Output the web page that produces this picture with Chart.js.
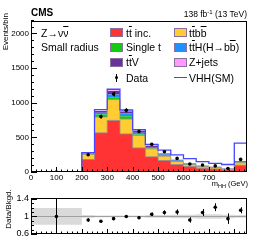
<!DOCTYPE html>
<html>
<head>
<meta charset="utf-8">
<script src="https://cdn.jsdelivr.net/npm/chart.js@4.4.1/dist/chart.umd.min.js"></script>
<style>
  html, body { margin: 0; padding: 0; background: #fff; }
  body { width: 258px; height: 243px; position: relative; overflow: hidden; font-family: "Liberation Sans", Arial, sans-serif; color: #000; }
  canvas { position: absolute; left: 0; }
  #main { top: 0; }
  #ratio { top: 190px; }
  .t { position: absolute; white-space: nowrap; line-height: 1; }
  .ob { text-decoration: overline; }
  .sw { position: absolute; width: 13px; height: 9px; box-sizing: border-box; border: 1px solid #8a6fa0; }
  .rot { position: absolute; white-space: nowrap; line-height: 1; transform-origin: 0 0; transform: rotate(-90deg); text-align: right; }
</style>
</head>
<body>
<canvas id="main" width="258" height="190"></canvas>
<canvas id="ratio" width="258" height="53"></canvas>

<!-- header -->
<div class="t" style="left:31px;top:8px;font-size:10px;font-weight:bold">CMS</div>
<div class="t" style="right:11px;top:9.5px;font-size:8.5px">138 fb<span style="font-size:6px;position:relative;top:-3px">-1</span> (13 TeV)</div>

<!-- axis titles -->
<div class="rot" style="left:1.5px;top:53px;width:40px;font-size:8px">Events/bin</div>
<div class="t" style="right:10px;top:180px;font-size:7.5px">m<span style="font-size:5.5px;position:relative;top:2px">HH</span> (GeV)</div>
<div class="rot" style="left:4.5px;top:229px;width:40px;font-size:8px;text-align:center">Data/Bkgd.</div>

<!-- legend -->
<div class="t" style="left:41px;top:28px;font-size:10.5px">Z→ν<span class="ob">ν</span></div>
<div class="t" style="left:41px;top:41.5px;font-size:10.5px">Small radius</div>

<div class="sw" style="left:110px;top:28.3px;background:#ff3333"></div>
<div class="t" style="left:126px;top:27.7px;font-size:10.5px">t<span class="ob">t</span> inc.</div>
<div class="sw" style="left:110px;top:43px;background:#11cc11"></div>
<div class="t" style="left:126px;top:42.4px;font-size:10.5px">Single t</div>
<div class="sw" style="left:110px;top:57.5px;background:#663399"></div>
<div class="t" style="left:126px;top:56.9px;font-size:10.5px">t<span class="ob">t</span>V</div>
<div style="position:absolute;left:116px;top:73.5px;width:1px;height:8.5px;background:#000"></div>
<div style="position:absolute;left:114.7px;top:75.9px;width:3.6px;height:3.6px;border-radius:50%;background:#000"></div>
<div class="t" style="left:126px;top:72.6px;font-size:10.5px">Data</div>

<div class="sw" style="left:174px;top:28.3px;background:#ffcc33"></div>
<div class="t" style="left:189px;top:27.7px;font-size:10.5px">t<span class="ob">t</span>b<span class="ob">b</span></div>
<div class="sw" style="left:174px;top:43px;background:#1e90ff"></div>
<div class="t" style="left:189px;top:42.4px;font-size:10.5px">t<span class="ob">t</span>H(H→b<span class="ob">b</span>)</div>
<div class="sw" style="left:174px;top:57.5px;background:#ff99ff"></div>
<div class="t" style="left:189px;top:56.9px;font-size:10.5px">Z+jets</div>
<div style="position:absolute;left:174px;top:77px;width:13px;height:1.3px;background:#4646ff"></div>
<div class="t" style="left:189px;top:72.6px;font-size:10.5px">VHH(SM)</div>

<script>
// bin edges in m_HH (GeV)
const edges = [0, 200, 250, 300, 350, 400, 450, 500, 550, 600, 650, 700, 750, 800, 850];

// background stack, events per bin
const ttInc   = [0, 180, 565, 745, 550, 348, 219, 166, 108, 78, 55, 42, 30, 98];
const ttbb    = [0,  75, 230, 300, 215, 180, 115,  62,  43, 28, 22, 18, 12, 36];
const singleT = [0,   5,  35,  35,  40,  15,  10,   8,   5,  4,  3,  3,  2,  5];
const ttH     = [0,   5,  25,  40,  40,  25,  18,  15,  10,  6,  6,  5,  3,  9];
const ttV     = [0,   5,  25,  50,  30,  25,  17,  15,  10,  7,  6,  6,  4, 10];
const zJets   = [0,   2,   5,  10,   5,   4,   3,   3,   2,  2,  2,  1,  1,  2];

// signal line and observed data
const vhhSM   = [0, 280, 900, 1195, 895, 610, 400, 315, 248, 192, 150, 125, 108, 418];
const dataObs = [0, 250, 800, 1125, 890, 585, 400, 293, 196, 115, 102, 88, 49, 182];
const dataErr = [25, 16, 28, 34, 30, 24, 20, 17, 14, 11, 10, 9, 7, 14];

// ratio panel
const ratio    = [1.0, 0.92, 0.89, 0.95, 1.0, 0.97, 1.05, 1.09, 1.10, 0.92, 1.09, 1.21, 0.95, 1.14];
const ratioErr = [1.0, 0.04, 0.03, 0.02, 0.02, 0.03, 0.04, 0.05, 0.06, 0.06, 0.08, 0.09, 0.12, 0.07];
const bandErr  = [0.19, 0.03, 0.02, 0.02, 0.02, 0.02, 0.03, 0.03, 0.04, 0.04, 0.05, 0.05, 0.04, 0.03];

const yTicks = [0, 500, 1000, 1500, 2000];
const ratioTicks = [0.6, 1, 1.4];

const centers = edges.slice(0, -1).map((e, i) => (e + edges[i + 1]) / 2);

// one point per bin low edge plus the last edge; 'before' steps hold the value across the bin
function histPoints(values) {
  const pts = values.map((v, i) => ({ x: edges[i], y: v }));
  pts.push({ x: edges[edges.length - 1], y: values[values.length - 1] });
  return pts;
}
function markers(values) {
  return values.map((v, i) => ({ x: centers[i], y: v }));
}

function layer(label, values, color, fill, border) {
  return {
    label, data: histPoints(values), stepped: 'before', stack: 'bkg', fill,
    backgroundColor: color, borderColor: border || 'transparent', borderWidth: border ? 0.8 : 0,
    pointRadius: 0
  };
}

// inward ticks and a box round the plot, ROOT style
function axisTicks(xMinor, yMinor, yMajorList) {
  return {
    id: 'axisTicks',
    afterDatasetsDraw(chart) {
      const { ctx, chartArea: a, scales: { x, y } } = chart;
      ctx.save();
      ctx.strokeStyle = '#000';
      ctx.lineWidth = 1;
      ctx.beginPath();
      for (let v = x.min; v <= x.max + 1e-6; v += xMinor) {
        const px = Math.round(x.getPixelForValue(v)) + 0.5;
        const len = Math.abs(v / 100 - Math.round(v / 100)) < 1e-6 ? 5 : 2.5;
        ctx.moveTo(px, a.bottom); ctx.lineTo(px, a.bottom - len);
      }
      const n = Math.round((y.max - y.min) / yMinor);
      for (let i = 0; i <= n; i++) {
        const v = y.min + i * yMinor;
        const py = Math.round(y.getPixelForValue(v)) + 0.5;
        const major = yMajorList.some(m => Math.abs(m - v) < 1e-6);
        ctx.moveTo(a.left, py); ctx.lineTo(a.left + (major ? 6 : 3), py);
      }
      ctx.stroke();
      ctx.strokeRect(a.left + 0.5, a.top + 0.5, a.width - 1, a.height - 1);
      ctx.restore();
    }
  };
}

const errorBars = {
  id: 'errorBars',
  afterDatasetsDraw(chart) {
    const { ctx, chartArea: a, scales: { x, y } } = chart;
    ctx.save();
    ctx.beginPath();
    ctx.rect(a.left, a.top, a.width, a.height);
    ctx.clip();
    ctx.strokeStyle = '#000';
    ctx.lineWidth = 1;
    chart.data.datasets.forEach(ds => {
      if (!ds.errors) return;
      ds.data.forEach((p, i) => {
        const px = Math.round(x.getPixelForValue(p.x)) + 0.5;
        ctx.beginPath();
        ctx.moveTo(px, y.getPixelForValue(p.y - ds.errors[i]));
        ctx.lineTo(px, y.getPixelForValue(p.y + ds.errors[i]));
        ctx.stroke();
      });
    });
    ctx.restore();
  }
};

// grey line at ratio 1, drawn after the band fill and before the points
const unityLine = {
  id: 'unityLine',
  beforeDatasetDraw(chart, args) {
    if (args.index !== 2) return;
    const { ctx, chartArea: a, scales: { y } } = chart;
    const py = Math.round(y.getPixelForValue(1)) + 0.5;
    ctx.save();
    ctx.strokeStyle = '#a0a0a0';
    ctx.lineWidth = 1;
    ctx.beginPath();
    ctx.moveTo(a.left, py); ctx.lineTo(a.right, py);
    ctx.stroke();
    ctx.restore();
  }
};

const tickFont = { family: '"Liberation Sans", Arial, sans-serif', size: 8 };

new Chart(document.getElementById('main'), {
  type: 'line',
  data: {
    datasets: [
      layer('tt inc.', ttInc, '#ff3333', 'origin', '#8c8c8c'),
      layer('ttbb', ttbb, '#ffcc33', '-1', '#9a8a70'),
      layer('Single t', singleT, '#11cc11', '-1'),
      layer('ttH(H->bb)', ttH, '#1e90ff', '-1'),
      layer('ttV', ttV, '#663399', '-1'),
      layer('Z+jets', zJets, '#ff99ff', '-1'),
      {
        label: 'VHH(SM)', data: histPoints(vhhSM), stepped: 'before', stack: 'sig', fill: false,
        borderColor: '#4646ff', borderWidth: 1.3, pointRadius: 0, order: -1
      },
      {
        label: 'Data', data: markers(dataObs), errors: dataErr, stack: 'obs', showLine: false,
        pointRadius: 1.8, pointBackgroundColor: '#000', pointBorderWidth: 0, order: -2
      }
    ]
  },
  options: {
    responsive: false,
    animation: false,
    devicePixelRatio: 1,
    layout: { padding: { top: 21, right: 11, left: 0, bottom: 0 } },
    plugins: { legend: { display: false }, tooltip: { enabled: false } },
    scales: {
      x: {
        type: 'linear', min: 0, max: 850,
        grid: { display: false, drawTicks: false }, border: { display: false },
        ticks: {
          stepSize: 100, autoSkip: false, maxRotation: 0, padding: 1, color: '#000', font: tickFont,
          callback: v => (v % 100 === 0 && v <= 800) ? String(v) : ''
        },
        afterFit: s => { s.height = 18; }
      },
      y: {
        stacked: true, min: 0, max: 2180,
        grid: { display: false, drawTicks: false }, border: { display: false },
        afterBuildTicks: s => { s.ticks = yTicks.map(v => ({ value: v })); },
        ticks: { padding: 2, color: '#000', font: tickFont, callback: v => String(v) },
        afterFit: s => { s.width = 31; }
      }
    }
  },
  plugins: [axisTicks(20, 100, yTicks), errorBars]
});

new Chart(document.getElementById('ratio'), {
  type: 'line',
  data: {
    datasets: [
      {
        label: 'band low', data: histPoints(bandErr.map(e => 1 - e)), stepped: 'before', fill: false,
        borderColor: 'transparent', borderWidth: 0, pointRadius: 0
      },
      {
        label: 'band high', data: histPoints(bandErr.map(e => 1 + e)), stepped: 'before', fill: '-1',
        backgroundColor: '#dadada', borderColor: 'transparent', borderWidth: 0, pointRadius: 0
      },
      {
        label: 'Data/Bkgd.', data: markers(ratio), errors: ratioErr, showLine: false,
        pointRadius: 1.8, pointBackgroundColor: '#000', pointBorderWidth: 0, order: -1
      }
    ]
  },
  options: {
    responsive: false,
    animation: false,
    devicePixelRatio: 1,
    layout: { padding: { top: 8, right: 11, left: 0, bottom: 0 } },
    plugins: { legend: { display: false }, tooltip: { enabled: false } },
    scales: {
      x: {
        type: 'linear', min: 0, max: 850,
        grid: { display: false, drawTicks: false }, border: { display: false },
        ticks: { display: false },
        afterFit: s => { s.height = 9; }
      },
      y: {
        min: 0.6, max: 1.42,
        grid: { display: false, drawTicks: false }, border: { display: false },
        afterBuildTicks: s => { s.ticks = ratioTicks.map(v => ({ value: v })); },
        ticks: { padding: 2, color: '#000', font: { family: '"Liberation Sans", Arial, sans-serif', size: 9 }, callback: v => String(v) },
        afterFit: s => { s.width = 31; }
      }
    }
  },
  plugins: [unityLine, axisTicks(20, 0.1, ratioTicks), errorBars]
});
</script>
</body>
</html>
